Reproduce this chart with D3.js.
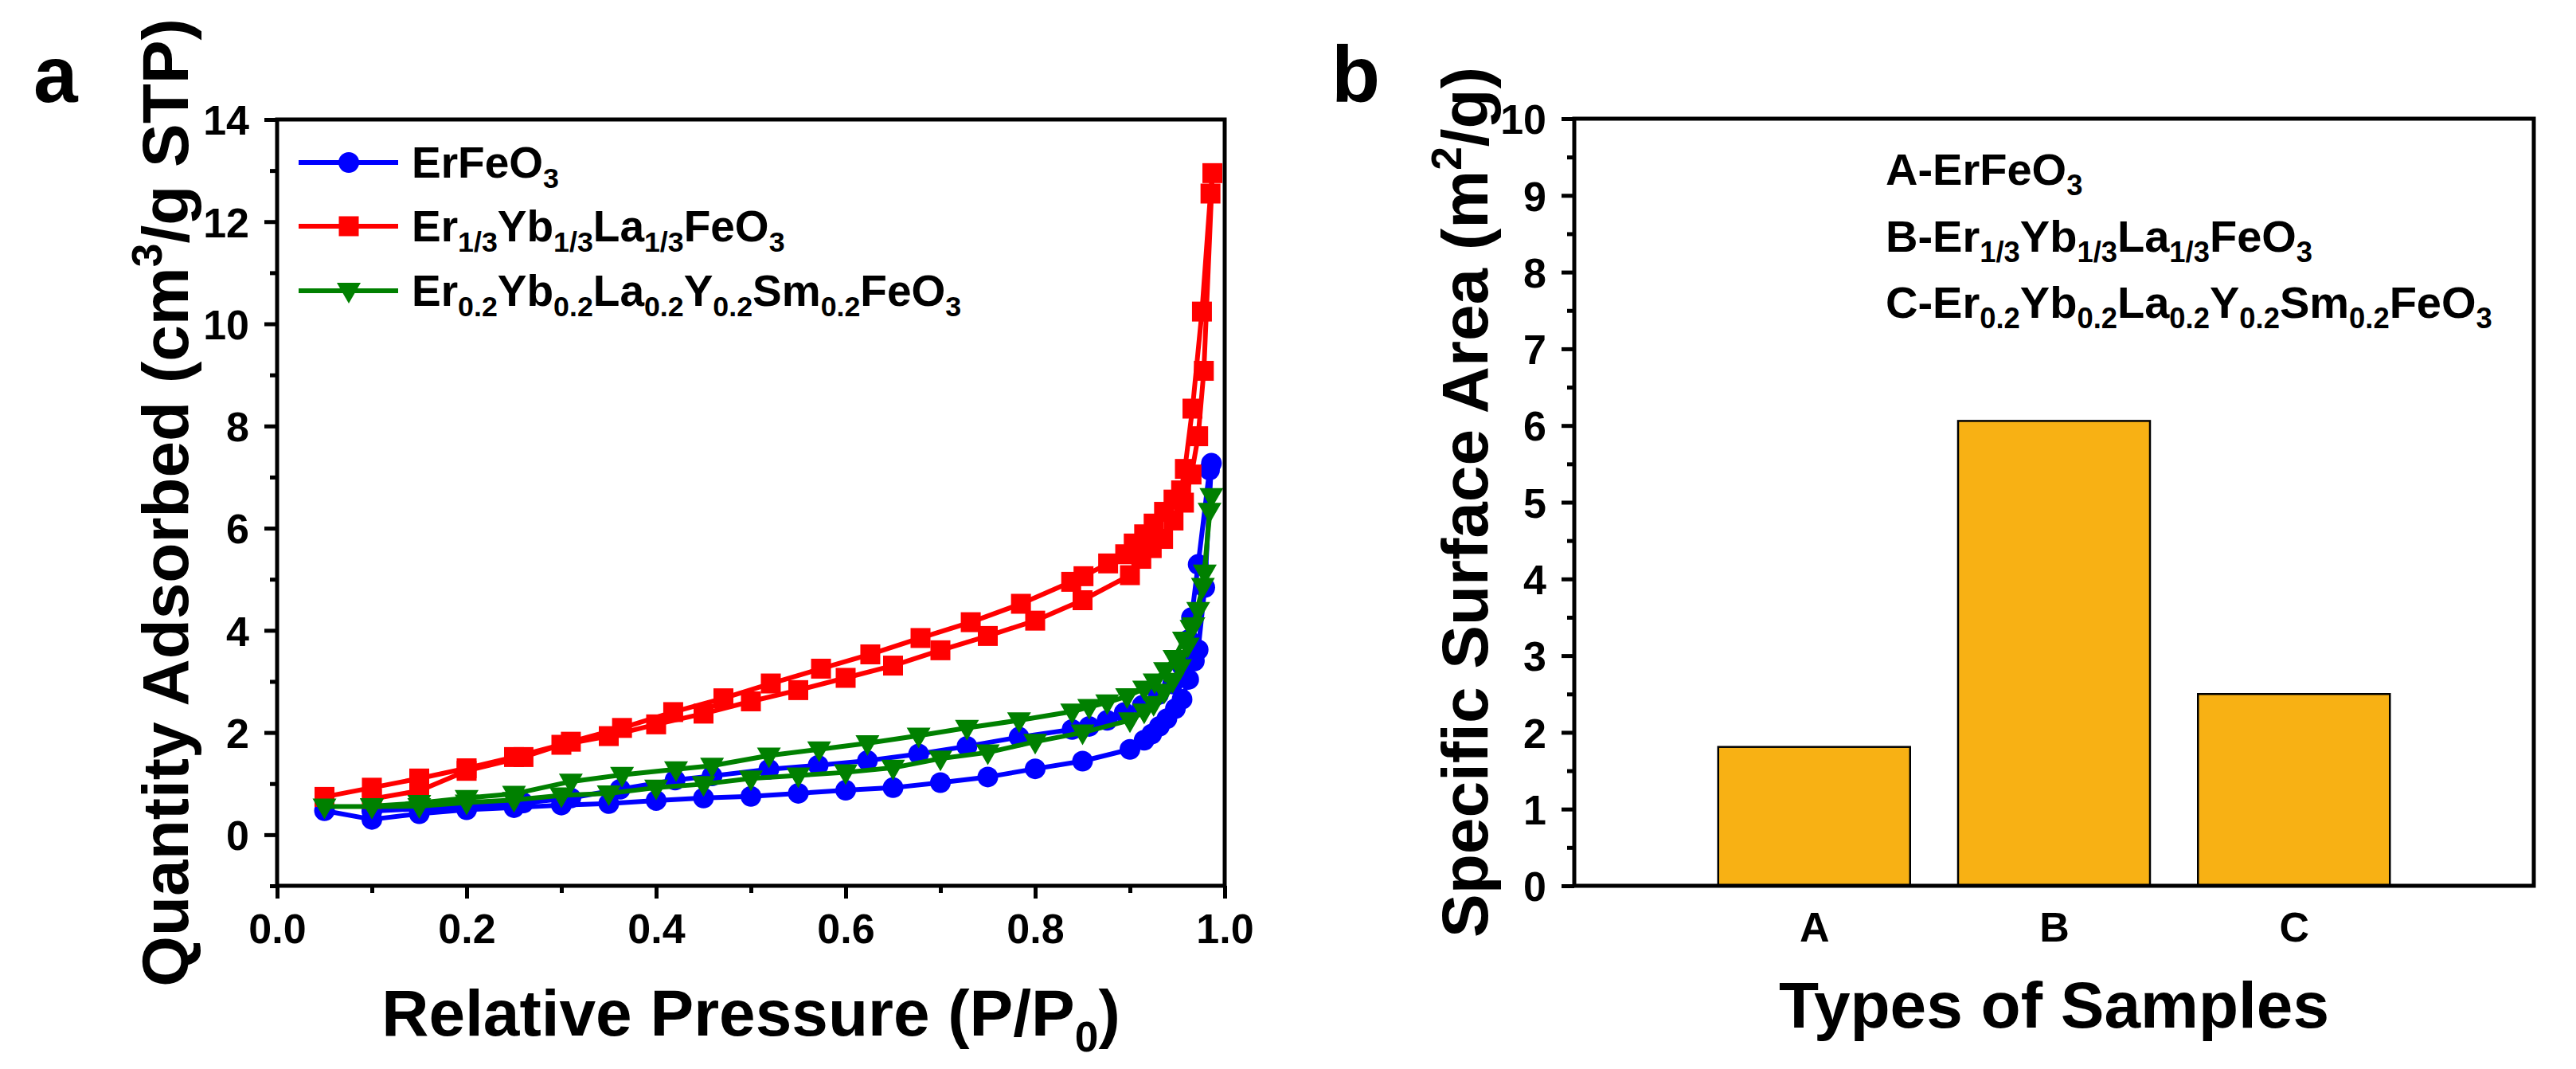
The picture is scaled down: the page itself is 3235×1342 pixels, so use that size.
<!DOCTYPE html>
<html><head><meta charset="utf-8">
<script src="https://cdn.jsdelivr.net/npm/d3@7"></script>
<style>html,body{margin:0;padding:0;background:#fff}svg{display:block}text{font-family:"Liberation Sans",Arial,sans-serif;font-weight:bold;fill:#000}</style>
</head><body>
<svg id="chart" width="3235" height="1342"></svg>
<script>
// ---------- Panel a data: N2 adsorption/desorption isotherms [P/P0, quantity] ----------
const blueAds = [[0.05,0.47],[0.10,0.30],[0.15,0.41],[0.20,0.49],[0.25,0.53],[0.30,0.58],[0.35,0.61],[0.40,0.67],[0.45,0.72],[0.50,0.75],[0.55,0.81],[0.60,0.87],[0.65,0.92],[0.70,1.02],[0.75,1.13],[0.80,1.29],[0.85,1.44],[0.90,1.67],[0.915,1.85],[0.923,1.97],[0.931,2.12],[0.939,2.27],[0.948,2.47],[0.955,2.65],[0.962,3.04],[0.968,3.40],[0.972,3.62],[0.979,4.84],[0.986,7.27]];
const blueDes = [[0.984,7.14],[0.972,5.29],[0.965,4.25],[0.962,3.82],[0.955,3.30],[0.945,2.95],[0.930,2.74],[0.913,2.53],[0.894,2.39],[0.876,2.24],[0.857,2.12],[0.839,2.06],[0.783,1.91],[0.728,1.73],[0.677,1.58],[0.623,1.45],[0.571,1.36],[0.519,1.28],[0.459,1.15],[0.420,1.07],[0.362,0.89],[0.310,0.72],[0.260,0.62],[0.200,0.56],[0.150,0.51],[0.100,0.46]];
const redAds = [[0.05,0.74],[0.10,0.92],[0.15,1.10],[0.20,1.30],[0.25,1.52],[0.30,1.76],[0.35,1.93],[0.40,2.16],[0.45,2.37],[0.50,2.61],[0.55,2.83],[0.60,3.07],[0.65,3.31],[0.70,3.61],[0.75,3.89],[0.80,4.19],[0.85,4.59],[0.90,5.08],[0.912,5.40],[0.923,5.61],[0.935,5.79],[0.946,6.15],[0.957,6.50],[0.965,7.05],[0.972,7.80],[0.978,9.08],[0.987,12.95]];
const redDes = [[0.985,12.55],[0.976,10.24],[0.966,8.34],[0.958,7.16],[0.954,6.74],[0.946,6.56],[0.936,6.32],[0.925,6.09],[0.915,5.88],[0.904,5.70],[0.895,5.49],[0.877,5.31],[0.851,5.06],[0.838,4.95],[0.785,4.52],[0.732,4.16],[0.679,3.85],[0.626,3.53],[0.574,3.25],[0.521,2.96],[0.471,2.67],[0.418,2.40],[0.364,2.09],[0.310,1.82],[0.260,1.52],[0.200,1.25],[0.150,0.86],[0.100,0.70]];
const greenAds = [[0.05,0.55],[0.10,0.55],[0.15,0.56],[0.20,0.63],[0.25,0.68],[0.30,0.77],[0.35,0.81],[0.40,0.92],[0.45,0.99],[0.50,1.10],[0.55,1.16],[0.60,1.22],[0.65,1.31],[0.70,1.49],[0.75,1.61],[0.80,1.82],[0.85,2.00],[0.90,2.24],[0.915,2.41],[0.925,2.56],[0.936,2.80],[0.945,3.01],[0.953,3.28],[0.961,3.70],[0.967,4.10],[0.977,4.87],[0.986,6.63]];
const greenDes = [[0.984,6.34],[0.979,5.13],[0.972,4.40],[0.965,4.05],[0.957,3.82],[0.947,3.46],[0.937,3.22],[0.926,3.00],[0.915,2.86],[0.897,2.71],[0.876,2.59],[0.857,2.50],[0.839,2.41],[0.783,2.24],[0.728,2.09],[0.677,1.94],[0.623,1.79],[0.572,1.67],[0.519,1.55],[0.459,1.35],[0.421,1.28],[0.364,1.17],[0.310,1.04],[0.250,0.80],[0.200,0.72],[0.150,0.62],[0.100,0.56]];

// legend labels: [text, 0 normal / -1 subscript / 1 superscript]
const legendBlue  = [["ErFeO",0],["3",-1]];
const legendRed   = [["Er",0],["1/3",-1],["Yb",0],["1/3",-1],["La",0],["1/3",-1],["FeO",0],["3",-1]];
const legendGreen = [["Er",0],["0.2",-1],["Yb",0],["0.2",-1],["La",0],["0.2",-1],["Y",0],["0.2",-1],["Sm",0],["0.2",-1],["FeO",0],["3",-1]];

const xTicksA = [0,0.2,0.4,0.6,0.8,1.0];
const xMinorA = [0.1,0.3,0.5,0.7,0.9];
const yTicksA = [0,2,4,6,8,10,12,14];
const yMinorA = [-1,1,3,5,7,9,11,13];
const xTitleA = [["Relative Pressure (P/P",0],["0",-1],[")",0]];
const yTitleA = [["Quantity Adsorbed (cm",0],["3",1],["/g STP)",0]];

// ---------- Panel b data ----------
const samples = ["A","B","C"];
const surfaceArea = [1.81, 6.06, 2.50];
const sampleNotes = [
  [["A-ErFeO",0],["3",-1]],
  [["B-Er",0],["1/3",-1],["Yb",0],["1/3",-1],["La",0],["1/3",-1],["FeO",0],["3",-1]],
  [["C-Er",0],["0.2",-1],["Yb",0],["0.2",-1],["La",0],["0.2",-1],["Y",0],["0.2",-1],["Sm",0],["0.2",-1],["FeO",0],["3",-1]]
];
const yTicksB = [0,1,2,3,4,5,6,7,8,9,10];
const yMinorB = [0.5,1.5,2.5,3.5,4.5,5.5,6.5,7.5,8.5,9.5];
const xTitleB = [["Types of Samples",0]];
const yTitleB = [["Specific Surface Area (m",0],["2",1],["/g)",0]];

// ---------- drawing ----------
const svg = d3.select("#chart");
svg.append("rect").attr("width",3235).attr("height",1342).attr("fill","#fff");

function rich(textSel, parts, fs) {
  let shift = 0;
  parts.forEach(([t,k]) => {
    const target = k === -1 ? fs*0.24 : (k === 1 ? -fs*0.40 : 0);
    textSel.append("tspan").text(t)
      .attr("font-size", k ? fs*0.65 : fs)
      .attr("dy", target - shift);
    shift = target;
  });
  return textSel;
}

function styleAxis(g, fs) {
  g.select(".domain").remove();
  g.selectAll(".tick line").attr("stroke","#000").attr("stroke-width",5);
  g.selectAll(".tick text").attr("font-size",fs).attr("fill","#000")
    .attr("font-family",'"Liberation Sans",Arial,sans-serif').attr("font-weight","bold");
}

// ===== Panel a =====
const xA = d3.scaleLinear().domain([0,1]).range([348,1538]);
const yA = d3.scaleLinear().domain([-1,14]).range([1112,150]);

const gA = svg.append("g");

const marker = {
  circle: (g,px,py,c) => g.append("circle").attr("cx",px).attr("cy",py).attr("r",13).attr("fill",c),
  square: (g,px,py,c) => g.append("rect").attr("x",px-12.5).attr("y",py-12.5).attr("width",25).attr("height",25).attr("fill",c),
  tri: (g,px,py,c) => g.append("path").attr("d",`M${px-15},${py-10}L${px+15},${py-10}L${px},${py+16}Z`).attr("fill",c)
};

const seriesA = [
  {ads: blueAds, des: blueDes, color:"#0000FF", shape:"circle", label: legendBlue},
  {ads: redAds, des: redDes, color:"#FF0000", shape:"square", label: legendRed},
  {ads: greenAds, des: greenDes, color:"#008000", shape:"tri", label: legendGreen}
];

const line = d3.line().x(d => xA(d[0])).y(d => yA(d[1]));
seriesA.forEach(s => {
  const pts = s.ads.concat(s.des);
  const g = gA.append("g");
  g.append("path").attr("d", line(pts)).attr("fill","none").attr("stroke",s.color)
    .attr("stroke-width",6).attr("stroke-linejoin","round");
  pts.forEach(d => marker[s.shape](g, xA(d[0]), yA(d[1]), s.color));
});

// axes a
const axXA = gA.append("g").attr("transform",`translate(0,${yA(-1)})`)
  .call(d3.axisBottom(xA).tickValues(xTicksA).tickSize(16).tickPadding(19).tickFormat(d3.format(".1f")));
styleAxis(axXA, 52);
const axXAm = gA.append("g").attr("transform",`translate(0,${yA(-1)})`)
  .call(d3.axisBottom(xA).tickValues(xMinorA).tickSize(9).tickFormat(""));
styleAxis(axXAm, 52);
const axYA = gA.append("g").attr("transform",`translate(${xA(0)},0)`)
  .call(d3.axisLeft(yA).tickValues(yTicksA).tickSize(16).tickPadding(19));
styleAxis(axYA, 52);
axYA.selectAll(".tick text").attr("dy","0.36em");
const axYAm = gA.append("g").attr("transform",`translate(${xA(0)},0)`)
  .call(d3.axisLeft(yA).tickValues(yMinorA).tickSize(9).tickFormat(""));
styleAxis(axYAm, 52);

gA.append("rect").attr("x",xA(0)).attr("y",yA(14)).attr("width",xA(1)-xA(0)).attr("height",yA(-1)-yA(14))
  .attr("fill","none").attr("stroke","#000").attr("stroke-width",5);

// legend a
const legY = [204, 284, 365];
seriesA.forEach((s,i) => {
  const g = gA.append("g");
  g.append("line").attr("x1",375).attr("x2",500).attr("y1",legY[i]).attr("y2",legY[i])
    .attr("stroke",s.color).attr("stroke-width",6);
  marker[s.shape](g, 438, legY[i], s.color);
  rich(g.append("text").attr("x",517).attr("y",legY[i]+19), s.label, 55);
});

// titles a
rich(gA.append("text").attr("x",(xA(0)+xA(1))/2).attr("y",1300).attr("text-anchor","middle"), xTitleA, 82);
rich(gA.append("text").attr("text-anchor","middle")
  .attr("transform",`translate(236,${(yA(-1)+yA(14))/2}) rotate(-90)`), yTitleA, 82);
gA.append("text").attr("x",42).attr("y",128).attr("font-size",100).text("a");

// ===== Panel b =====
const xB = d3.scaleLinear().domain([0,4]).range([1977,3182]);
const yB = d3.scaleLinear().domain([0,10]).range([1112,149]);
const gB = svg.append("g");
const barW = 0.8;

gB.selectAll("rect.bar").data(samples).join("rect").attr("class","bar")
  .attr("x",(d,i) => xB(i+1-barW/2)).attr("width",xB(barW)-xB(0))
  .attr("y",(d,i) => yB(surfaceArea[i])).attr("height",(d,i) => yB(0)-yB(surfaceArea[i]))
  .attr("fill","#F8B114").attr("stroke","#000").attr("stroke-width",2.5);

const axYB = gB.append("g").attr("transform",`translate(${xB(0)},0)`)
  .call(d3.axisLeft(yB).tickValues(yTicksB).tickSize(16).tickPadding(19));
styleAxis(axYB, 52);
axYB.selectAll(".tick text").attr("dy","0.36em");
const axYBm = gB.append("g").attr("transform",`translate(${xB(0)},0)`)
  .call(d3.axisLeft(yB).tickValues(yMinorB).tickSize(9).tickFormat(""));
styleAxis(axYBm, 52);
const axXB = gB.append("g").attr("transform",`translate(0,${yB(0)})`)
  .call(d3.axisBottom(xB).tickValues([1,2,3]).tickSize(0).tickPadding(33).tickFormat((d,i) => samples[i]));
styleAxis(axXB, 52);

gB.append("rect").attr("x",xB(0)).attr("y",yB(10)).attr("width",xB(4)-xB(0)).attr("height",yB(0)-yB(10))
  .attr("fill","none").attr("stroke","#000").attr("stroke-width",5);

const noteY = [232, 316, 399];
sampleNotes.forEach((p,i) => rich(gB.append("text").attr("x",2368).attr("y",noteY[i]), p, 56));

rich(gB.append("text").attr("x",(xB(0)+xB(4))/2).attr("y",1290).attr("text-anchor","middle"), xTitleB, 82);
rich(gB.append("text").attr("text-anchor","middle")
  .attr("transform",`translate(1868,${(yB(0)+yB(10))/2}) rotate(-90)`), yTitleB, 82);
gB.append("text").attr("x",1672).attr("y",128).attr("font-size",100).text("b");
</script>
</body></html>
